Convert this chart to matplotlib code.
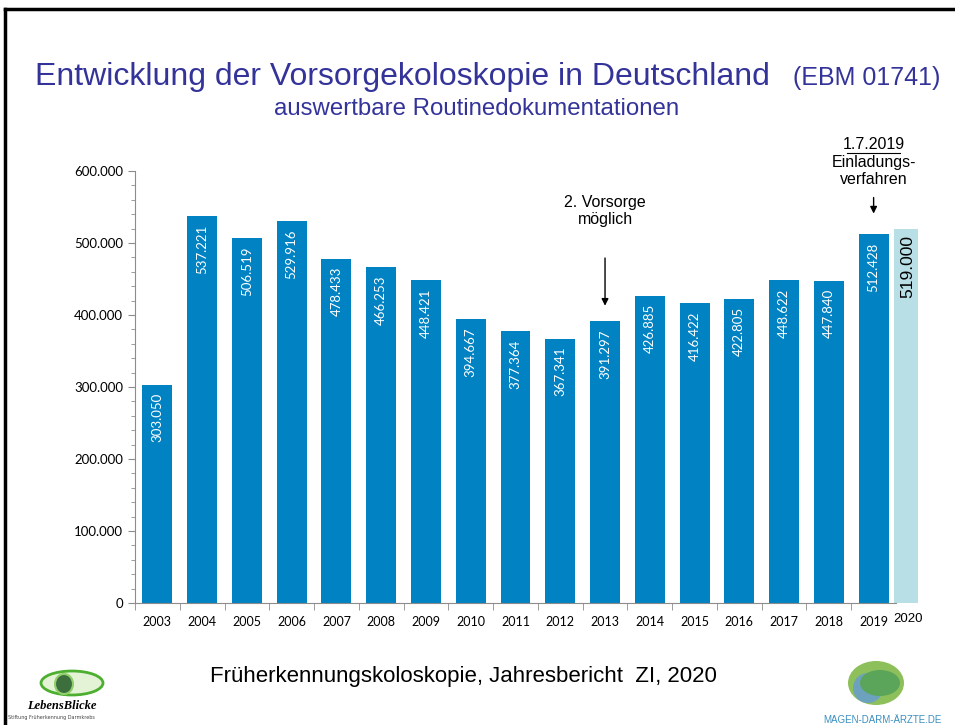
import matplotlib
matplotlib.use("Agg")
import matplotlib.pyplot as plt
from matplotlib.lines import Line2D
from matplotlib.patches import Ellipse
from matplotlib.ticker import MultipleLocator, FuncFormatter

# data
years = [str(y) for y in range(2003, 2020)]
counts = [303050, 537221, 506519, 529916, 478433, 466253, 448421, 394667,
          377364, 367341, 391297, 426885, 416422, 422805, 448622, 447840, 512428]
year_2020 = "2020"
count_2020 = 519000

blue = "#0082c3"
light = "#b8dfe5"
title_col = "#33339a"
grey = "#8c8c8c"


def de(v):
    return f"{v:,}".replace(",", ".")


fig = plt.figure(figsize=(9.55, 7.25), dpi=100)
ax = fig.add_axes([135 / 955, 1 - 603 / 725, 761 / 955, 432 / 725])

x = list(range(len(years)))
ax.bar(x, counts, width=0.67, color=blue)
x20 = len(years) - 0.275
ax.bar([x20], [count_2020], width=0.52, color=light, clip_on=False)

# value labels inside the bars
for xi, v in zip(x, counts):
    ax.annotate(de(v), (xi, v), xytext=(0, -6), textcoords="offset points",
                rotation=90, ha="center", va="top", color="white",
                fontsize=9.5, family="Lato")
ax.annotate(de(count_2020), (x20, count_2020), xytext=(1, -4),
            textcoords="offset points", rotation=90, ha="center", va="top",
            color="black", fontsize=12.5, family="Liberation Sans",
            annotation_clip=False)

ax.set_xlim(-0.5, len(years) - 0.5)
ax.set_ylim(0, 600000)
ax.yaxis.set_major_locator(MultipleLocator(100000))
ax.yaxis.set_minor_locator(MultipleLocator(20000))
ax.yaxis.set_major_formatter(FuncFormatter(lambda v, p: de(int(v))))
ax.set_xticks(x)
ax.set_xticklabels(years, family="Lato", fontsize=9)
ax.set_xticks([i + 0.5 for i in x[:-1]] + [-0.5], minor=True)
ax.tick_params(axis="x", which="major", length=0, pad=9)
ax.tick_params(axis="x", which="minor", length=5, color=grey)
ax.tick_params(axis="y", which="major", length=5, color=grey, labelsize=9.5)
ax.tick_params(axis="y", which="minor", length=3, color=grey)
for lab in ax.get_yticklabels():
    lab.set_family("Lato")
ax.text(x20 + 0.05, -0.023, year_2020, transform=ax.get_xaxis_transform(),
        ha="center", va="top", fontsize=9.5, family="Liberation Sans")

for s in ["top", "right"]:
    ax.spines[s].set_visible(False)
for s in ["left", "bottom"]:
    ax.spines[s].set_color(grey)

# annotations
ax.text(10, 544000, "2. Vorsorge\nmöglich", ha="center", va="center",
        fontsize=11.5, family="Liberation Sans", linespacing=1.15)
ax.annotate("", xy=(10, 409000), xytext=(10, 483000),
            arrowprops=dict(arrowstyle="-|>", color="black", lw=1,
                            mutation_scale=10))
ax.text(16, 637000, "1.7.2019", ha="center", va="center", fontsize=11.5,
        family="Liberation Sans", clip_on=False)
ax.add_line(Line2D([15.4, 16.6], [625500, 625500], color="black", lw=0.8,
                   clip_on=False))
ax.text(16, 600000, "Einladungs-\nverfahren", ha="center", va="center",
        fontsize=11.5, family="Liberation Sans", linespacing=1.15, clip_on=False)
ax.annotate("", xy=(16, 537000), xytext=(16, 567000),
            arrowprops=dict(arrowstyle="-|>", color="black", lw=1,
                            mutation_scale=10), annotation_clip=False)

# titles
fig.text(35 / 955, 1 - 85 / 725, "Entwicklung der Vorsorgekoloskopie in Deutschland",
         color=title_col, fontsize=23, family="Liberation Sans", va="baseline")
fig.text(940 / 955, 1 - 85 / 725, "(EBM 01741)", color=title_col, fontsize=18,
         family="Liberation Sans", va="baseline", ha="right")
fig.text(477 / 955, 1 - 115 / 725, "auswertbare Routinedokumentationen",
         color=title_col, fontsize=17.3, family="Liberation Sans", va="baseline",
         ha="center")
fig.text(210 / 955, 1 - 682 / 725, "Früherkennungskoloskopie, Jahresbericht  ZI, 2020",
         fontsize=16, family="Liberation Sans", va="baseline")

# slide frame
fig.add_artist(Line2D([5 / 955, 5 / 955], [0, 1 - 9 / 725], color="black", lw=2.5))
fig.add_artist(Line2D([5 / 955, 1], [1 - 9 / 725, 1 - 9 / 725], color="black", lw=2.5))

# rough logo stand-ins
fig.add_artist(Ellipse((72 / 955, 1 - 683 / 725), 62 / 955, 24 / 725,
                       fc="#e4f3d6", ec="#4caf30", lw=2))
fig.add_artist(Ellipse((64 / 955, 1 - 684 / 725), 18 / 955, 20 / 725,
                       fc="#3d6e3d", ec="#8fd06a", lw=1.5))
fig.text(62 / 955, 1 - 706 / 725, "LebensBlicke", fontsize=9, style="italic",
         weight="bold", family="Liberation Serif", ha="center", va="center")
fig.text(8 / 955, 1 - 717 / 725, "Stiftung Früherkennung Darmkrebs", fontsize=3.5,
         family="DejaVu Sans", va="center", color="#444444")
fig.add_artist(Ellipse((876 / 955, 1 - 683 / 725), 56 / 955, 44 / 725,
                       fc="#8dc05a", ec="none"))
fig.add_artist(Ellipse((868 / 955, 1 - 688 / 725), 30 / 955, 30 / 725,
                       fc="#6a9fca", ec="none", alpha=0.9))
fig.add_artist(Ellipse((880 / 955, 1 - 683 / 725), 40 / 955, 26 / 725,
                       fc="#5aa55a", ec="none"))
fig.text(882 / 955, 1 - 720 / 725, "MAGEN-DARM-ÄRZTE.DE", fontsize=7,
         color="#3a8fc0", family="Liberation Sans", ha="center", va="center")

fig.savefig("out.png", dpi=100)
